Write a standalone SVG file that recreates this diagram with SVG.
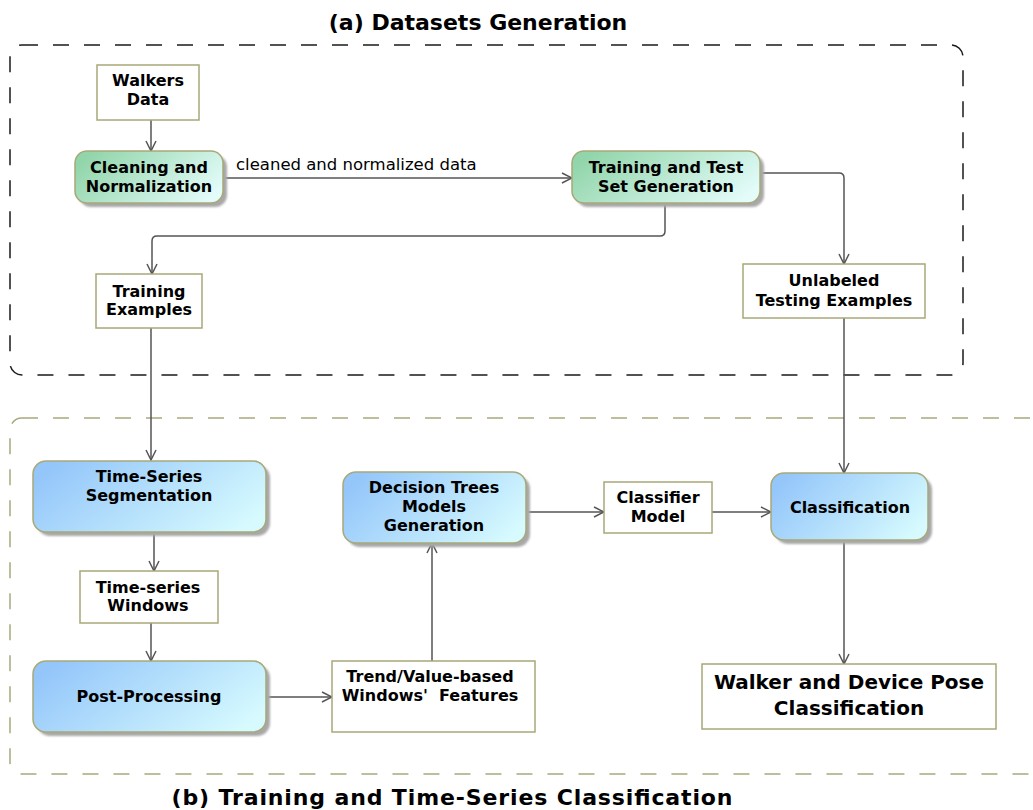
<svg xmlns="http://www.w3.org/2000/svg" width="1033" height="810" viewBox="0 0 1033 810">
  <style>
    .frame-a { fill: none; stroke: #1a1a1a; stroke-width: 1.5; stroke-dasharray: 16 15; }
    .frame-b { fill: none; stroke: #a9a97c; stroke-width: 1.5; stroke-dasharray: 16 15; }
    .title { font-family: "DejaVu Sans", "Liberation Sans", sans-serif; font-weight: bold; font-size: 22px; fill: #000; text-anchor: middle; }
    .obj { fill: #ffffff; stroke: #a8a878; stroke-width: 1.5; }
    .act { stroke: #a8a878; stroke-width: 1.5; }
    .green { fill: url(#gGreen); }
    .blue { fill: url(#gBlue); }
    .shadow { fill: #a8a8a8; filter: url(#soft); }
    .lbl { font-family: "DejaVu Sans", "Liberation Sans", sans-serif; font-weight: bold; font-size: 16px; fill: #000; text-anchor: middle; }
    .big { font-size: 20px; }
    .edge-label { font-family: "DejaVu Sans", "Liberation Sans", sans-serif; font-size: 16.5px; fill: #000; }
    .edge { fill: none; stroke: #555555; stroke-width: 1.5; marker-end: url(#arrow); }
  </style>
  <defs>
    <linearGradient id="gGreen" x1="0" y1="0.3" x2="1" y2="0.7">
      <stop offset="0" stop-color="#92d5aa"/>
      <stop offset="1" stop-color="#e3fcfa"/>
    </linearGradient>
    <linearGradient id="gBlue" x1="0" y1="0.3" x2="1" y2="0.7">
      <stop offset="0" stop-color="#94c6fa"/>
      <stop offset="1" stop-color="#d6fafe"/>
    </linearGradient>
    <filter id="soft" x="-10%" y="-10%" width="120%" height="130%">
      <feGaussianBlur stdDeviation="1"/>
    </filter>
    <marker id="arrow" viewBox="0 0 12 12" refX="11" refY="6" markerWidth="12" markerHeight="12" markerUnits="userSpaceOnUse" orient="auto">
      <path d="M1,1 L11,6 L1,11" fill="none" stroke="#555555" stroke-width="1.5"/>
    </marker>
  </defs>

  <!-- section frames and their titles -->
  <g id="frame-datasets">
    <rect class="frame-a" x="10" y="45" width="953" height="330" rx="12"/>
    <text class="title" x="478" y="30">(a) Datasets Generation</text>
  </g>
  <g id="frame-training">
    <rect class="frame-b" x="10" y="418" width="1040" height="356" rx="12"/>
    <text class="title" x="452" y="805" textLength="561" lengthAdjust="spacing">(b) Training and Time-Series Classification</text>
  </g>

  <!-- connectors -->
  <g id="connectors">
    <path class="edge" d="M151,120 V151"/>
    <path class="edge" d="M223,178 H572"/>
    <text class="edge-label" x="236" y="170">cleaned and normalized data</text>
    <path class="edge" d="M665,204 V231 Q665,236 660,236 H157 Q152,236 152,241 V274"/>
    <path class="edge" d="M760,173 H839 Q844,173 844,178 V264"/>
    <path class="edge" d="M151,328 V460"/>
    <path class="edge" d="M844,318 V473"/>
    <path class="edge" d="M154,532 V571"/>
    <path class="edge" d="M151,623 V661"/>
    <path class="edge" d="M266,697 H332"/>
    <path class="edge" d="M432,661 V543"/>
    <path class="edge" d="M526,512 H604"/>
    <path class="edge" d="M712,512 H771"/>
    <path class="edge" d="M844,540 V664"/>
  </g>

  <!-- dataset generation nodes -->
  <g id="walkers-data">
    <rect class="obj" x="97" y="65" width="102" height="55"/>
    <text class="lbl" x="148" y="86">Walkers</text>
    <text class="lbl" x="148" y="105">Data</text>
  </g>
  <g id="cleaning-normalization">
    <rect class="shadow" x="79" y="155" width="148" height="52" rx="12"/>
    <rect class="act green" x="75" y="151" width="148" height="52" rx="12"/>
    <text class="lbl" x="149" y="173">Cleaning and</text>
    <text class="lbl" x="149" y="192">Normalization</text>
  </g>
  <g id="train-test-generation">
    <rect class="shadow" x="576" y="155" width="188" height="52" rx="12"/>
    <rect class="act green" x="572" y="151" width="188" height="52" rx="12"/>
    <text class="lbl" x="666" y="173">Training and Test</text>
    <text class="lbl" x="666" y="192">Set Generation</text>
  </g>
  <g id="training-examples">
    <rect class="obj" x="96" y="274" width="106" height="54"/>
    <text class="lbl" x="149" y="297">Training</text>
    <text class="lbl" x="149" y="315">Examples</text>
  </g>
  <g id="unlabeled-testing-examples">
    <rect class="obj" x="743" y="264" width="182" height="54"/>
    <text class="lbl" x="834" y="286">Unlabeled</text>
    <text class="lbl" x="834" y="306">Testing Examples</text>
  </g>

  <!-- training and classification nodes -->
  <g id="time-series-segmentation">
    <rect class="shadow" x="37" y="465" width="233" height="71" rx="13"/>
    <rect class="act blue" x="33" y="461" width="233" height="71" rx="13"/>
    <text class="lbl" x="149" y="482">Time-Series</text>
    <text class="lbl" x="149" y="501">Segmentation</text>
  </g>
  <g id="time-series-windows">
    <rect class="obj" x="80" y="571" width="138" height="52"/>
    <text class="lbl" x="148" y="593">Time-series</text>
    <text class="lbl" x="148" y="611">Windows</text>
  </g>
  <g id="post-processing">
    <rect class="shadow" x="37" y="665" width="233" height="71" rx="13"/>
    <rect class="act blue" x="33" y="661" width="233" height="71" rx="13"/>
    <text class="lbl" x="149" y="702">Post-Processing</text>
  </g>
  <g id="window-features">
    <rect class="obj" x="332" y="661" width="203" height="71"/>
    <text class="lbl" x="430" y="682">Trend/Value-based</text>
    <text class="lbl" x="430" y="701">Windows'&#160; Features</text>
  </g>
  <g id="decision-trees">
    <rect class="shadow" x="347" y="476" width="183" height="71" rx="13"/>
    <rect class="act blue" x="343" y="472" width="183" height="71" rx="13"/>
    <text class="lbl" x="434" y="493">Decision Trees</text>
    <text class="lbl" x="434" y="512">Models</text>
    <text class="lbl" x="434" y="531">Generation</text>
  </g>
  <g id="classifier-model">
    <rect class="obj" x="604" y="482" width="108" height="51"/>
    <text class="lbl" x="658" y="503">Classifier</text>
    <text class="lbl" x="658" y="522">Model</text>
  </g>
  <g id="classification">
    <rect class="shadow" x="775" y="477" width="157" height="67" rx="13"/>
    <rect class="act blue" x="771" y="473" width="157" height="67" rx="13"/>
    <text class="lbl" x="850" y="513">Classification</text>
  </g>
  <g id="pose-classification">
    <rect class="obj" x="702" y="664" width="294" height="65"/>
    <text class="lbl big" x="849" y="689">Walker and Device Pose</text>
    <text class="lbl big" x="849" y="715">Classification</text>
  </g>
</svg>
